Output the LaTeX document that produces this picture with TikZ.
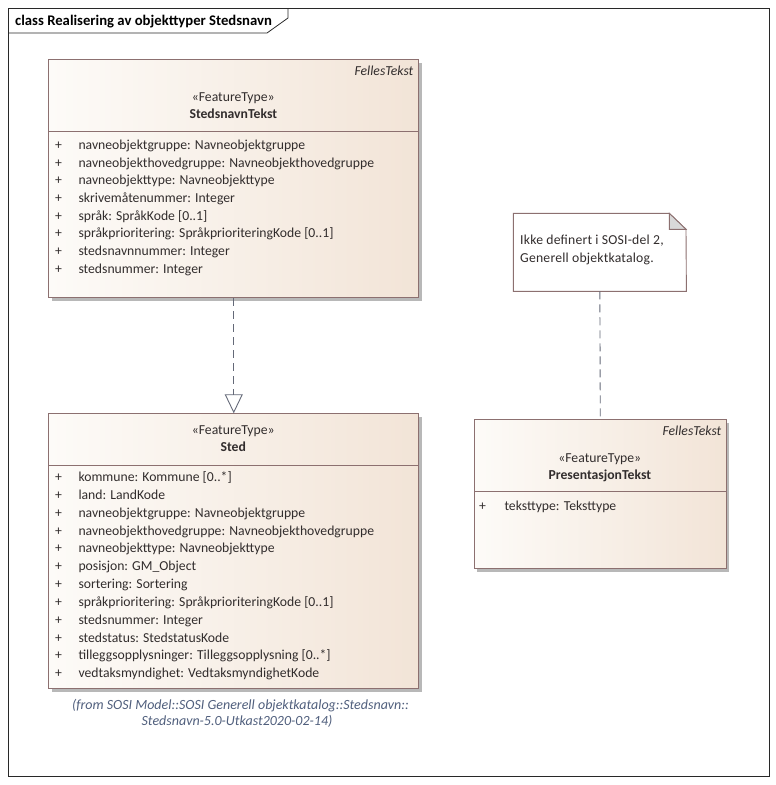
\documentclass[tikz,border=0pt]{standalone}
\usepackage{fontspec}
\setmainfont{Carlito}
\usetikzlibrary{arrows.meta,shadows}
\definecolor{bord}{RGB}{140,112,112}
\definecolor{fillL}{RGB}{253,251,248}
\definecolor{fillR}{RGB}{242,228,215}
\definecolor{txt}{RGB}{50,45,45}
\definecolor{fromc}{RGB}{80,95,125}
\definecolor{depc}{RGB}{100,105,120}
\definecolor{framec}{RGB}{40,40,40}
\newcommand{\fsz}{\fontsize{13.7}{16}\selectfont}
\tikzset{
  classbox/.style={draw=bord, line width=0.9pt, left color=fillL, right color=fillR,
    anchor=north west, inner sep=0pt,
    drop shadow={shadow xshift=3pt, shadow yshift=-3pt, fill=black!28, opacity=1}},
  attr/.style={anchor=base west, inner sep=0pt, text=txt, font=\fsz},
  notet/.style={anchor=base west, inner sep=0pt, text=txt, font=\fsz\addfontfeature{LetterSpace=1.5}},
  plus/.style={anchor=base, inner sep=0pt, text=txt, font=\fsz},
  ctr/.style={anchor=base, inner sep=0pt, text=txt, font=\fsz},
  ctrb/.style={anchor=base, inner sep=0pt, text=txt, font=\fsz\bfseries},
  pkg/.style={anchor=base east, inner sep=0pt, text=txt, font=\fsz\itshape},
  fromt/.style={anchor=base, inner sep=0pt, text=fromc, font=\fontsize{14.0}{16}\selectfont\itshape},
  sep/.style={draw=bord, line width=0.9pt},
  dep/.style={draw=depc, line width=0.9pt, dash pattern=on 8pt off 5pt}
}
\begin{document}
\begin{tikzpicture}[x=1pt,y=-1pt]
\useasboundingbox (0,0) rectangle (776,785);
\fill[white] (0,0) rectangle (776,785);
% frame
\draw[framec, line width=0.8pt] (8,8) rectangle (769,776);
\draw[framec, line width=0.8pt] (8,33) -- (267,33) -- (288,18) -- (288,8);
\node[anchor=base west, inner sep=0pt, text=black, font=\fontsize{14.7}{17}\selectfont\bfseries] (title) at (15,25.5) {class Realisering av objekttyper Stedsnavn};

% StedsnavnTekst
\node[classbox, minimum width=370, minimum height=238] (snt) at (48.3,59.3) {};
\draw[sep] (48.3,131) -- (418.3,131);
\node[pkg] (snt-pkg) at (413.5,75) {FellesTekst};
\node[ctr] (snt-st) at (233.3,101) {«FeatureType»};
\node[ctrb] (snt-name) at (233.3,118.3) {StedsnavnTekst};
\foreach \t [count=\i] in {{navneobjektgruppe: Navneobjektgruppe},
  {navneobjekthovedgruppe: Navneobjekthovedgruppe},
  {navneobjekttype: Navneobjekttype},
  {skrivemåtenummer: Integer},
  {språk: SpråkKode [0..1]},
  {språkprioritering: SpråkprioriteringKode [0..1]},
  {stedsnavnnummer: Integer},
  {stedsnummer: Integer}} {
  \node[plus] (snt-p\i) at (58.5,149.3+17.7*\i-17.7) {+};
  \node[attr] (snt-a\i) at (78.3,149.3+17.7*\i-17.7) {\t};
}

% Sted
\node[classbox, minimum width=370, minimum height=275] (sted) at (48.3,413.3) {};
\draw[sep] (48.3,465) -- (418.3,465);
\node[ctr] (sted-st) at (233.3,434.3) {«FeatureType»};
\node[ctrb] (sted-name) at (233.3,451.7) {Sted};
\foreach \t [count=\i] in {{kommune: Kommune [0..*]},
  {land: LandKode},
  {navneobjektgruppe: Navneobjektgruppe},
  {navneobjekthovedgruppe: Navneobjekthovedgruppe},
  {navneobjekttype: Navneobjekttype},
  {posisjon: GM\_Object},
  {sortering: Sortering},
  {språkprioritering: SpråkprioriteringKode [0..1]},
  {stedsnummer: Integer},
  {stedstatus: StedstatusKode},
  {tilleggsopplysninger: Tilleggsopplysning [0..*]},
  {vedtaksmyndighet: VedtaksmyndighetKode}} {
  \node[plus] (sted-p\i) at (58.5,481.7+17.82*\i-17.82) {+};
  \node[attr] (sted-a\i) at (78.3,481.7+17.82*\i-17.82) {\t};
}
\node[fromt] (from1) at (240.5,709) {(from SOSI Model::SOSI Generell objektkatalog::Stedsnavn::};
\node[fromt] (from2) at (237,725.7) {Stedsnavn-5.0-Utkast2020-02-14)};

% Generalization
\draw[dep, -{Triangle[open, length=19pt, width=18pt, line width=0.9pt]}] (snt.south) -- (sted.north);

% Note
\node[anchor=north west, minimum width=172.7, minimum height=77.7, inner sep=0pt] (note) at (513.3,213.3) {};
\draw[draw=bord, line width=0.9pt, fill=white] (note.north west) -- (669.3,213.3) -- (686,229.3) -- (note.south east) -- (note.south west) -- cycle;
\filldraw[draw=bord, line width=0.9pt, fill=black!15] (669.3,213.3) -- (669.3,229.3) -- (686,229.3) -- cycle;
\node[notet] (note-t1) at (520,244.3) {Ikke definert i SOSI-del 2,};
\node[notet] (note-t2) at (520,262.3) {Generell objektkatalog.};

% PresentasjonTekst
\node[classbox, minimum width=251.7, minimum height=149] (pt) at (474,419.3) {};
\draw[sep] (474,491) -- (725.7,491);
\node[pkg] (pt-pkg) at (721.5,435) {FellesTekst};
\node[ctr] (pt-st) at (599.8,462.3) {«FeatureType»};
\node[ctrb] (pt-name) at (599.8,479) {PresentasjonTekst};
\node[plus] (pt-p1) at (482.5,510) {+};
\node[attr] (pt-a1) at (504.3,510) {teksttype: Teksttype};

% note link
\draw[dep] (note.south) -- (pt.north);
\end{tikzpicture}
\end{document}
